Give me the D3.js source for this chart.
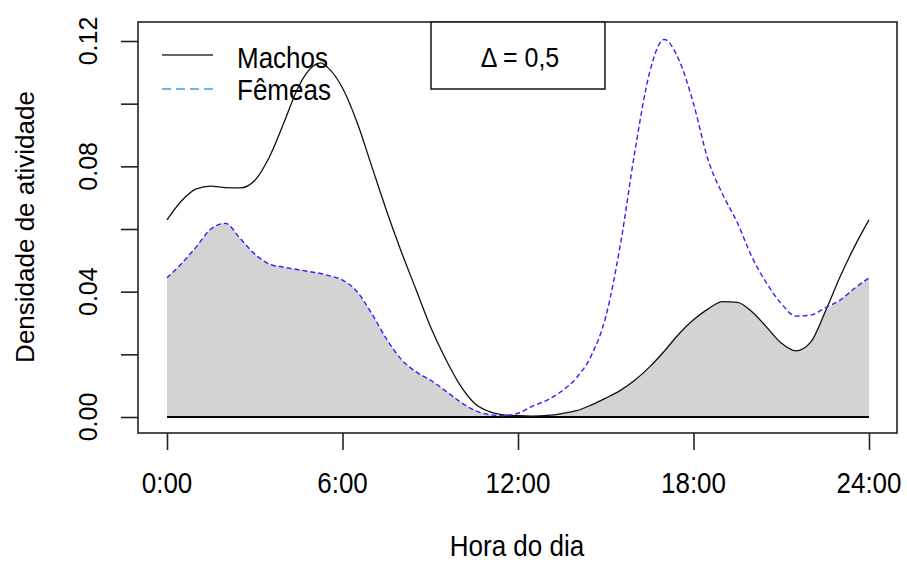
<!DOCTYPE html>
<html lang="pt">
<head>
<meta charset="utf-8">
<script src="https://d3js.org/d3.v7.min.js"></script>
<style>
  body { margin: 0; background: #fff; }
  text { font-family: "Liberation Sans", Arial, sans-serif; fill: #000; }
</style>
</head>
<body>
<script>
// hours of the day (grid the curves were read on)
var hours = [0,0.5,1,1.5,2,2.5,3,3.5,4,4.5,5,5.25,5.5,6,6.5,7,7.5,8,8.5,9,9.5,10,10.5,11,11.5,12,
             12.5,13,13.5,14,14.5,15,15.5,16,16.5,17,17.5,18,18.5,19,19.5,20,20.5,21,21.5,22,22.5,23,23.5,24];

// activity density, males (solid black)
var machos = [0.0629,0.069,0.0728,0.0737,0.0732,0.0731,0.0755,0.083,0.094,0.1055,0.112,0.113,0.1115,0.105,0.094,0.080,0.066,0.053,0.041,0.029,0.019,0.0105,0.0045,0.0018,0.0007,0.0004,
              0.0003,0.0005,0.0011,0.002,0.0038,0.006,0.0085,0.0118,0.0160,0.0210,0.0265,0.031,0.0345,0.0368,0.0366,0.0336,0.0287,0.0236,0.0211,0.0238,0.0335,0.0445,0.0543,0.0629];

// activity density, females (dashed blue)
var femeas = [0.0444,0.049,0.0543,0.060,0.0618,0.057,0.052,0.0488,0.0478,0.047,0.0462,0.0458,0.0452,0.0437,0.040,0.033,0.025,0.0185,0.0145,0.0118,0.0085,0.005,0.0022,0.0008,0.0004,0.0012,
              0.0035,0.0054,0.0083,0.0125,0.0195,0.032,0.055,0.085,0.110,0.1205,0.114,0.100,0.082,0.071,0.062,0.051,0.0427,0.0362,0.0322,0.0325,0.0348,0.0372,0.041,0.0444];

var xTicks = [0, 6, 12, 18, 24];
var xTickLabels = ["0:00", "6:00", "12:00", "18:00", "24:00"];
var yTicks = [0, 0.02, 0.04, 0.06, 0.08, 0.10, 0.12];
var yTickLabels = ["0.00", "", "0.04", "", "0.08", "", "0.12"];
var legendNames = ["Machos", "Fêmeas"];
var deltaLabel = "\u0394 = 0,5";

var w = 907, h = 563;
var box = {left: 138, right: 897, top: 22, bottom: 433};

var data = hours.map(function(t, i) {
  return {t: t, m: machos[i], f: femeas[i]};
});

var x = d3.scaleLinear().domain([0, 24]).range([167, 869]);
var y = d3.scaleLinear().domain([0, 0.12]).range([417, 41]);

var svg = d3.select("body").append("svg")
  .attr("width", w)
  .attr("height", h);

// overlap area (min of both curves)
var area = d3.area()
  .x(function(d) { return x(d.t); })
  .y0(y(0))
  .y1(function(d) { return y(Math.min(d.m, d.f)); })
  .curve(d3.curveMonotoneX);

svg.append("path")
  .datum(data)
  .attr("d", area)
  .attr("fill", "#d3d3d3");

// zero line
svg.append("line")
  .attr("x1", x(0)).attr("x2", x(24))
  .attr("y1", y(0)).attr("y2", y(0))
  .attr("stroke", "#000")
  .attr("stroke-width", 2);

var lineM = d3.line()
  .x(function(d) { return x(d.t); })
  .y(function(d) { return y(d.m); })
  .curve(d3.curveMonotoneX);
var lineF = d3.line()
  .x(function(d) { return x(d.t); })
  .y(function(d) { return y(d.f); })
  .curve(d3.curveMonotoneX);

svg.append("path")
  .datum(data)
  .attr("d", lineM)
  .attr("fill", "none")
  .attr("stroke", "#111")
  .attr("stroke-width", 1.3);

svg.append("path")
  .datum(data)
  .attr("d", lineF)
  .attr("fill", "none")
  .attr("stroke", "#2525ff")
  .attr("stroke-width", 1.4)
  .attr("stroke-dasharray", "5,3");

// plot box
svg.append("rect")
  .attr("x", box.left).attr("y", box.top)
  .attr("width", box.right - box.left)
  .attr("height", box.bottom - box.top)
  .attr("fill", "none")
  .attr("stroke", "#222")
  .attr("stroke-width", 1.6);

// x axis
var xAxis = d3.axisBottom(x)
  .tickValues(xTicks)
  .tickSize(17)
  .tickFormat(function() { return ""; });
var gx = svg.append("g")
  .attr("transform", "translate(0," + box.bottom + ")")
  .call(xAxis);
gx.select(".domain").remove();
gx.selectAll(".tick line").attr("stroke", "#222").attr("stroke-width", 1.6);

svg.selectAll(".xlab")
  .data(xTicks)
  .enter().append("text")
  .attr("class", "xlab")
  .attr("transform", function(d) { return "translate(" + x(d) + ",493) scale(1,1.12)"; })
  .attr("text-anchor", "middle")
  .style("font-size", "26px")
  .text(function(d, i) { return xTickLabels[i]; });

// y axis
var yAxis = d3.axisLeft(y)
  .tickValues(yTicks)
  .tickSize(17)
  .tickFormat(function() { return ""; });
var gy = svg.append("g")
  .attr("transform", "translate(" + box.left + ",0)")
  .call(yAxis);
gy.select(".domain").remove();
gy.selectAll(".tick line").attr("stroke", "#222").attr("stroke-width", 1.6);

svg.selectAll(".ylab")
  .data(yTicks)
  .enter().append("text")
  .attr("class", "ylab")
  .attr("transform", function(d) { return "translate(97," + y(d) + ") rotate(-90)"; })
  .attr("text-anchor", "middle")
  .style("font-size", "25px")
  .text(function(d, i) { return yTickLabels[i]; });

// axis titles
svg.append("text")
  .attr("transform", "translate(517,556) scale(1,1.1)")
  .attr("text-anchor", "middle")
  .style("font-size", "26px")
  .text("Hora do dia");

svg.append("text")
  .attr("transform", "translate(34,227) rotate(-90)")
  .attr("text-anchor", "middle")
  .style("font-size", "26px")
  .text("Densidade de atividade");

// legend
var legend = svg.append("g");
legend.append("line")
  .attr("x1", 162).attr("x2", 213).attr("y1", 55).attr("y2", 55)
  .attr("stroke", "#333").attr("stroke-width", 1.6);
legend.append("line")
  .attr("x1", 162).attr("x2", 213).attr("y1", 89).attr("y2", 89)
  .attr("stroke", "#3a9ef0").attr("stroke-width", 1.6)
  .attr("stroke-dasharray", "9,5");
legend.selectAll(".leg")
  .data(legendNames)
  .enter().append("text")
  .attr("class", "leg")
  .attr("transform", function(d, i) { return "translate(237," + (68 + i * 32) + ") scale(1,1.12)"; })
  .style("font-size", "26px")
  .text(function(d) { return d; });

// delta box
svg.append("rect")
  .attr("x", 431).attr("y", box.top)
  .attr("width", 605 - 431).attr("height", 89 - box.top)
  .attr("fill", "#fff")
  .attr("stroke", "#222")
  .attr("stroke-width", 1.6);
svg.append("text")
  .attr("transform", "translate(520,67) scale(1,1.12)")
  .attr("text-anchor", "middle")
  .style("font-size", "25px")
  .text(deltaLabel);
</script>
</body>
</html>
